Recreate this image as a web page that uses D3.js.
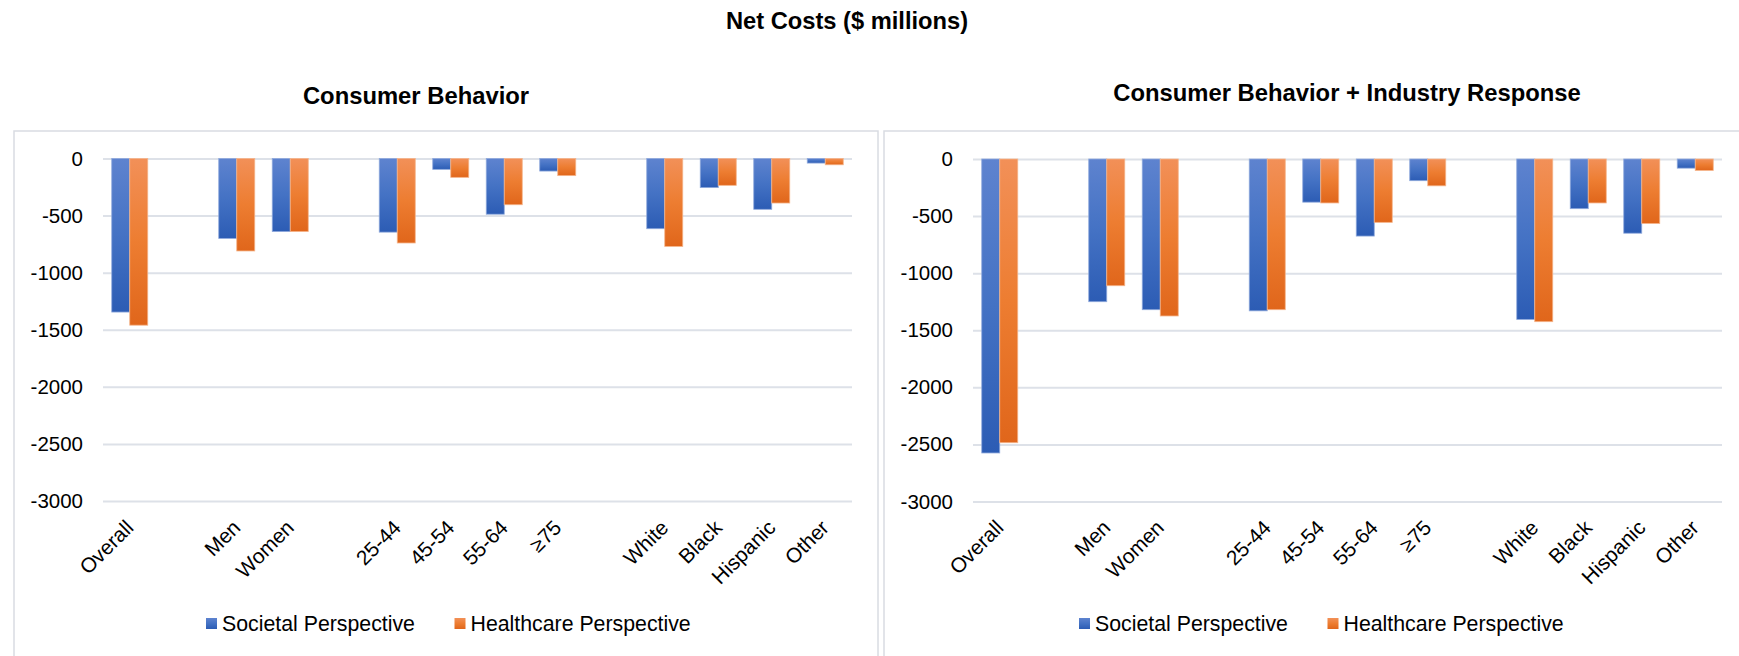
<!DOCTYPE html>
<html>
<head>
<meta charset="utf-8">
<script src="https://cdn.jsdelivr.net/npm/d3@7"></script>
<style>
  html, body { margin: 0; padding: 0; background: #fff; }
  svg { display: block; font-family: "Liberation Sans", Arial, Helvetica, sans-serif; }
</style>
</head>
<body>
<svg id="chart" width="1739" height="656"></svg>
<script>
// Category slots; empty strings are spacer slots between groups
const categories = ["Overall", "", "Men", "Women", "", "25-44", "45-54", "55-64", "\u226575", "", "White", "Black", "Hispanic", "Other"];
const seriesNames = ["Societal Perspective", "Healthcare Perspective"];
const yTicks = [0, -500, -1000, -1500, -2000, -2500, -3000];

// Net costs ($ millions), consumer behavior scenario
const consumerSocietal   = [-1345, null, -700, -640, null, -645, -95, -488, -110, null, -615, -255, -445, -40];
const consumerHealthcare = [-1460, null, -810, -640, null, -740, -165, -405, -150, null, -770, -235, -390, -55];

// Net costs ($ millions), consumer behavior + industry response scenario
const industrySocietal   = [-2575, null, -1250, -1320, null, -1330, -378, -675, -190, null, -1405, -435, -650, -80];
const industryHealthcare = [-2485, null, -1110, -1375, null, -1320, -385, -555, -235, null, -1425, -385, -565, -100];

const panelTitles = ["Consumer Behavior", "Consumer Behavior + Industry Response"];
const mainTitle = "Net Costs ($ millions)";

const colors = [
  { top: "#5e83cf", mid: "#4472c4", bottom: "#2c5cb4", edge: "#8fa9dc" },
  { top: "#f29058", mid: "#ed7d31", bottom: "#e0661b", edge: "#f5b48a" }
];

const svg = d3.select("#chart");
const defs = svg.append("defs");
colors.forEach((c, i) => {
  const g = defs.append("linearGradient")
    .attr("id", "grad" + i)
    .attr("x1", 0).attr("y1", 0).attr("x2", 0).attr("y2", 1);
  g.append("stop").attr("offset", "0%").attr("stop-color", c.top);
  g.append("stop").attr("offset", "50%").attr("stop-color", c.mid);
  g.append("stop").attr("offset", "100%").attr("stop-color", c.bottom);
});

svg.append("text")
  .attr("x", 847).attr("y", 29)
  .attr("text-anchor", "middle")
  .attr("font-size", 23.7).attr("font-weight", "bold")
  .attr("fill", "#000")
  .text(mainTitle);

const panels = [
  { data: [consumerSocietal, consumerHealthcare], title: panelTitles[0],
    box: [14, 131, 864], plot: [103, 852], yRange: [501, 158.5],
    titleX: 416, titleY: 104, legendX: 206 },
  { data: [industrySocietal, industryHealthcare], title: panelTitles[1],
    box: [884, 131, 864], plot: [973, 1722], yRange: [501.5, 159],
    titleX: 1347, titleY: 100.5, legendX: 1079 }
];

panels.forEach(p => {
  const g = svg.append("g");

  // chart frame
  g.append("rect")
    .attr("x", p.box[0]).attr("y", p.box[1])
    .attr("width", p.box[2]).attr("height", 600)
    .attr("fill", "none")
    .attr("stroke", "#d9dce2").attr("stroke-width", 1.5);

  g.append("text")
    .attr("x", p.titleX).attr("y", p.titleY)
    .attr("text-anchor", "middle")
    .attr("font-size", 23.8).attr("font-weight", "bold")
    .attr("fill", "#000")
    .text(p.title);

  const y = d3.scaleLinear().domain([-3000, 0]).range(p.yRange);
  const x = d3.scaleBand()
    .domain(d3.range(categories.length))
    .range(p.plot)
    .paddingInner(0.327)
    .paddingOuter(0.1635);
  const xs = d3.scaleBand().domain([0, 1]).range([0, x.bandwidth()]);

  // horizontal gridlines + tick labels
  const yAxis = d3.axisLeft(y)
    .tickValues(yTicks)
    .tickSize(-(p.plot[1] - p.plot[0]))
    .tickPadding(20)
    .tickFormat(d3.format("d"));
  const ax = g.append("g")
    .attr("transform", `translate(${p.plot[0]},0)`)
    .call(yAxis);
  ax.select(".domain").remove();
  ax.selectAll(".tick line").attr("stroke", "#dde1e8").attr("stroke-width", 2);
  ax.selectAll(".tick text")
    .attr("font-size", 20.5)
    .attr("font-family", "Liberation Sans, Arial, sans-serif")
    .attr("fill", "#000")
    .text(d => d === 0 ? "0" : "-" + Math.abs(d));

  // bars
  p.data.forEach((vals, si) => {
    g.append("g").selectAll("rect")
      .data(vals.map((v, i) => ({ v, i })).filter(d => d.v !== null))
      .join("rect")
      .attr("x", d => x(d.i) + xs(si))
      .attr("y", y(0))
      .attr("width", xs.bandwidth())
      .attr("height", d => y(d.v) - y(0))
      .attr("fill", `url(#grad${si})`)
      .attr("stroke", colors[si].edge)
      .attr("stroke-width", 0.8);
  });

  // category labels, rotated 45 degrees
  g.append("g").selectAll("text")
    .data(categories.map((c, i) => ({ c, i })).filter(d => d.c !== ""))
    .join("text")
    .attr("transform", d => `translate(${x(d.i) + x.bandwidth() / 2 + 5},529) rotate(-45)`)
    .attr("text-anchor", "end")
    .attr("font-size", 20.8)
    .attr("fill", "#000")
    .text(d => d.c);

  // legend
  const lg = g.append("g").attr("transform", `translate(${p.legendX},0)`);
  const legendOffsets = [0, 248.5];
  seriesNames.forEach((name, si) => {
    lg.append("rect")
      .attr("x", legendOffsets[si]).attr("y", 618)
      .attr("width", 11).attr("height", 11)
      .attr("fill", `url(#grad${si})`);
    lg.append("text")
      .attr("x", legendOffsets[si] + 16).attr("y", 631)
      .attr("font-size", 21.3)
      .attr("fill", "#000")
      .text(name);
  });
});
</script>
</body>
</html>
